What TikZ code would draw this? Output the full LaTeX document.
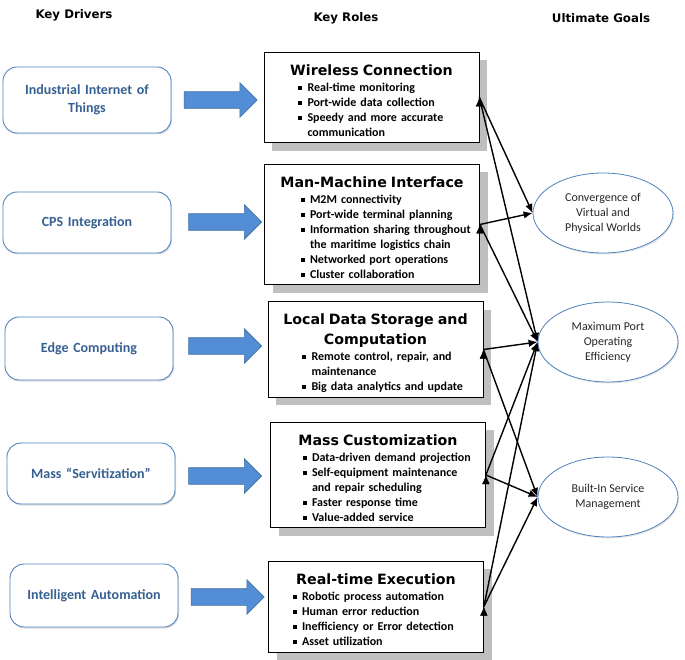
\documentclass[tikz,border=0pt]{standalone}
\usepackage{fontspec}
\setmainfont{Carlito}
\newfontfamily\headfont{DejaVu Sans}
\usetikzlibrary{shapes.geometric, shapes.arrows, arrows, arrows.meta, shadows}
\definecolor{driverblue}{RGB}{79,129,189}
\definecolor{drivertext}{RGB}{55,96,146}
\definecolor{arrowblue}{RGB}{83,141,213}
\definecolor{arrowedge}{RGB}{65,113,156}
\definecolor{shadowgray}{RGB}{191,191,191}
\tikzstyle{heading} = [font=\headfont\bfseries\fontsize{11.8}{14}\selectfont]
\tikzstyle{driver} = [rectangle, 
rounded corners=14pt, 
minimum width=168pt, 
minimum height=63pt, 
text width=160pt, 
align=center, 
draw=driverblue, line width=0.9pt, 
fill=white, text=drivertext,
font=\bfseries\fontsize{14}{18}\selectfont,
drop shadow={shadow xshift=1pt, shadow yshift=-1.5pt, opacity=0.25}]
\tikzstyle{push} = [single arrow, 
single arrow head extend=9pt, 
minimum height=73pt, 
text height=16pt, 
inner sep=0pt, 
draw=arrowedge, line width=0.6pt, 
fill=arrowblue]
\tikzstyle{role} = [rectangle, 
text width=207pt, 
inner xsep=4pt, inner ysep=2pt, 
align=left, 
draw=black, line width=0.8pt, 
fill=white,
font=\bfseries\fontsize{12}{15}\selectfont,
drop shadow={shadow xshift=8pt, shadow yshift=-8pt, fill=shadowgray, opacity=1}]
\tikzstyle{goal} = [ellipse, 
minimum width=140pt, 
minimum height=80pt, 
inner sep=0pt, 
align=center, 
draw=driverblue, line width=0.8pt, 
fill=white, text=black!85,
font=\fontsize{12}{15}\selectfont,
drop shadow={shadow xshift=1pt, shadow yshift=-1.5pt, opacity=0.2}]
\tikzstyle{link} = [->, >={Latex[length=9pt, width=7.5pt]}, line width=1.4pt]
\newcommand{\roletitle}[1]{{\centering\headfont\bfseries\fontsize{14.2}{20}\selectfont\rule{0pt}{21pt}#1\par}\vspace{1pt}}
\newcommand{\sqb}{\rule[1.6pt]{4pt}{4pt}}
\newcommand{\roleitems}[2]{\noindent\hspace*{#1}\begin{tabular}[t]{@{}l@{\hspace{5.5pt}}l@{}}#2\end{tabular}}
\begin{document}
\begin{tikzpicture}[x=1pt, y=-1pt]
\useasboundingbox (0,0) rectangle (685,660);
% column headings
\node (hdrivers) [heading] at (74,15) {Key Drivers};
\node (hroles) [heading] at (346,18) {Key Roles};
\node (hgoals) [heading] at (601,18) {Ultimate Goals};

% key drivers
\node (iiot) [driver, minimum height=66pt] at (87,100) {Industrial Internet of\\Things};
\node (cps) [driver, minimum height=61pt] at (87,222.5) {CPS Integration};
\node (edge) [driver] at (89,348.5) {Edge Computing};
\node (serv) [driver, minimum height=61pt] at (91,473.5) {Mass “Servitization”};
\node (auto) [driver] at (94,595.5) {Intelligent Automation};

\node (p1) [push] at (216.5,100) {};
\node (p2) [push] at (221,222) {};
\node (p3) [push] at (221,346) {};
\node (p4) [push] at (221,476) {};
\node (p5) [push] at (223.5,597) {};

% key roles
\node (wc) [role, minimum height=89pt] at (371.5,97.5) {\roletitle{Wireless Connection}\roleitems{30pt}{\sqb & Real-time monitoring\\ \sqb & Port-wide data collection\\ \sqb & Speedy and more accurate\\ & communication}};
\node (mm) [role, minimum height=119pt] at (372,224.5) {\roletitle{Man-Machine Interface}\roleitems{32pt}{\sqb & M2M connectivity\\ \sqb & Port-wide terminal planning\\ \sqb & Information sharing throughout\\ & the maritime logistics chain\\ \sqb & Networked port operations\\ \sqb & Cluster collaboration}};
\node (ld) [role, minimum height=95pt] at (375.5,349.5) {\roletitle{Local Data Storage and\\Computation}\roleitems{30pt}{\sqb & Remote control, repair, and\\ & maintenance\\ \sqb & Big data analytics and update}};
\node (mc) [role, minimum height=104pt] at (378,475) {\roletitle{Mass Customization}\roleitems{28pt}{\sqb & Data-driven demand projection\\ \sqb & Self-equipment maintenance\\ & and repair scheduling\\ \sqb & Faster response time\\ \sqb & Value-added service}};
\node (rt) [role, minimum height=91pt] at (376,606.5) {\roletitle{Real-time Execution}\roleitems{20pt}{\sqb & Robotic process automation\\ \sqb & Human error reduction\\ \sqb & Inefficiency or Error detection\\ \sqb & Asset utilization}};

% ultimate goals
\node (cv) [goal] at (603,213) {Convergence of\\Virtual and\\Physical Worlds};
\node (mx) [goal] at (608,342) {Maximum Port\\Operating\\Efficiency};
\node (bs) [goal] at (608,497) {Built-In Service\\Management};

\draw [link] (wc.east) edge (cv.west);
\draw [link] (wc.east) edge (mx.west);
\draw [link] (mm.east) edge (cv.west);
\draw [link] (mm.east) edge (mx.west);
\draw [link] (ld.east) edge (mx.west);
\draw [link] (ld.east) edge (bs.west);
\draw [link] (mc.east) edge (mx.west);
\draw [link] (mc.east) edge (bs.west);
\draw [link] (rt.east) edge (mx.west);
\draw [link] (rt.east) edge (bs.west);
\end{tikzpicture}
\end{document}
